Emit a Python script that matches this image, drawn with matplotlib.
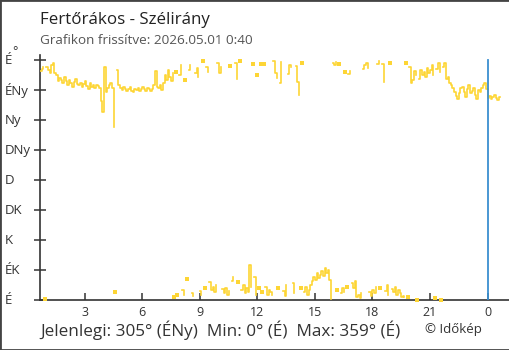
import numpy as np
import matplotlib
matplotlib.use("Agg")
import matplotlib.pyplot as plt
from matplotlib.patches import Rectangle

plt.rcParams["font.family"] = ["Open Sans", "DejaVu Sans"]

# 5-minute wind direction readings (degrees), from 0:40 the previous day
start_hour = 0 + 40 / 60
step_min = 5
dir_deg = [
    343, 346, 349, 2, 350, 345, 340, 352, 355, 340, 338, 328,
    333, 330, 326, 334, 328, 322, 330, 325, 320, 327, 331, 324,
    322, 326, 319, 324, 328, 321, 317, 325, 320, 323, 318, 322,
    321, 318, 298, 282, 350, 312, 318, 323, 326, 318, 260, 12,
    345, 322, 318, 315, 320, 317, 313, 316, 319, 314, 312, 317,
    315, 318, 313, 316, 320, 317, 314, 318, 316, 313, 317, 322,
    343, 320, 318, 323, 315, 325, 338, 330, 345, 335, 328, 340,
    4, 342, 7, 338, 353, 15, 8, 330, 31, 345, 352, 10,
    6, 340, 348, 335, 14, 8, 359, 18, 350, 342, 27, 15,
    20, 12, 22, 355, 340, 350, 16, 10, 18, 8, 14, 351,
    28, 34, 356, 332, 27, 359, 15, 22, 10, 18, 12, 52,
    20, 354, 35, 8, 337, 18, 354, 12, 354, 20, 8, 15,
    12, 8, 358, 340, 333, 18, 325, 357, 14, 6, 22, 339,
    352, 350, 25, 10, 351, 327, 307, 18, 355, 12, 20, 8,
    15, 22, 28, 35, 30, 40, 33, 38, 44, 36, 48, 40,
    45, 30, 1, 355, 352, 357, 15, 354, 10, 18, 12, 342,
    20, 339, 344, 25, 18, 28, 5, 8, 3, 10, 346, 352,
    355, 348, 12, 6, 15, 10, 20, 354, 359, 18, 354, 327,
    14, 22, 8, 355, 16, 12, 20, 7, 15, 10, 5, 6,
    4, 355, 5, 350, 325, 330, 343, 338, 0, 332, 345, 338,
    342, 335, 348, 340, 345, 352, 338, 3, 347, 355, 342, 0,
    350, 356, 332, 335, 325, 322, 318, 312, 306, 302, 310, 318,
    320, 312, 305, 316, 322, 310, 314, 318, 308, 302, 315, 312,
    318, 322, 326, 316, 303, 306, 302, 305, 307, 303, 300, 305,
    305,
]
tick_hours = [3, 6, 9, 12, 15, 18, 21, 24]
tick_labels = ["3", "6", "9", "12", "15", "18", "21", "0"]
dir_ticks = [0, 45, 90, 135, 180, 225, 270, 315, 360]
dir_labels = ["É", "ÉK", "K", "DK", "D", "DNy", "Ny", "ÉNy", "É"]
midnight = 24

YELLOW = "#FDD535"
DARK = "#333333"

hours = start_hour + np.arange(len(dir_deg)) * step_min / 60
vals = np.array(dir_deg, dtype=float)

W, H = 510, 350
fig = plt.figure(figsize=(W / 100, H / 100), dpi=100)
ax = fig.add_axes([40 / W, 50 / H, 470 / W, 245 / H])
ax.set_xlim(start_hour, 25.17)
ax.set_ylim(0, 367.5)

# split where the direction wraps across north
breaks = np.where(np.abs(np.diff(vals)) > 180)[0] + 1
for idx in np.split(np.arange(len(vals)), breaks):
    if len(idx) == 1:
        ax.plot(hours[idx], vals[idx], "s", ms=3.2, color=YELLOW, mew=0,
                clip_on=False, zorder=3)
    else:
        ax.plot(hours[idx], vals[idx], drawstyle="steps-post", lw=1.2,
                color=YELLOW, zorder=3)

ax.axvline(midnight, ymin=0, ymax=360 / 367.5, color="#3A8FD0", lw=1.3, zorder=4)

for s in ["top", "right"]:
    ax.spines[s].set_visible(False)
for s in ["left", "bottom"]:
    ax.spines[s].set_color(DARK)
    ax.spines[s].set_linewidth(1.2)

ax.set_xticks(tick_hours, tick_labels)
ax.tick_params(axis="x", direction="in", length=5, width=1.1, color=DARK,
               labelsize=9, labelcolor=DARK, pad=4)
ax.set_yticks(dir_ticks, [""] * len(dir_ticks))
ax.tick_params(axis="y", direction="inout", length=9, width=1.1, color=DARK)
for v, lab in zip(dir_ticks, dir_labels):
    ax.text(-35 / 470, v, lab, transform=ax.get_yaxis_transform(),
            ha="left", va="center", fontsize=9.5, color=DARK)
fig.text(12 / W, 1 - 52 / H, "°", fontsize=9, color=DARK, ha="left", va="center")

fig.text(40 / W, 1 - 20 / H, "Fertőrákos - Szélirány", fontsize=12.2,
         color="#222222", ha="left", va="center")
fig.text(40 / W, 1 - 40 / H, "Grafikon frissítve: 2026.05.01 0:40", fontsize=9.7,
         color="#555555", ha="left", va="center")
fig.text(40 / W, 1 - 330 / H, "Jelenlegi: 305° (ÉNy)  Min: 0° (É)  Max: 359° (É)",
         fontsize=12.3, color=DARK, ha="left", va="center")
fig.text(482 / W, 1 - 330 / H, "© Időkép", fontsize=9.5, color=DARK,
         ha="right", va="center")

fig.patches.append(Rectangle((0, 0), 1, 1, transform=fig.transFigure, fill=False,
                             ec="#444444", lw=2))

fig.savefig("out.png", dpi=100)
